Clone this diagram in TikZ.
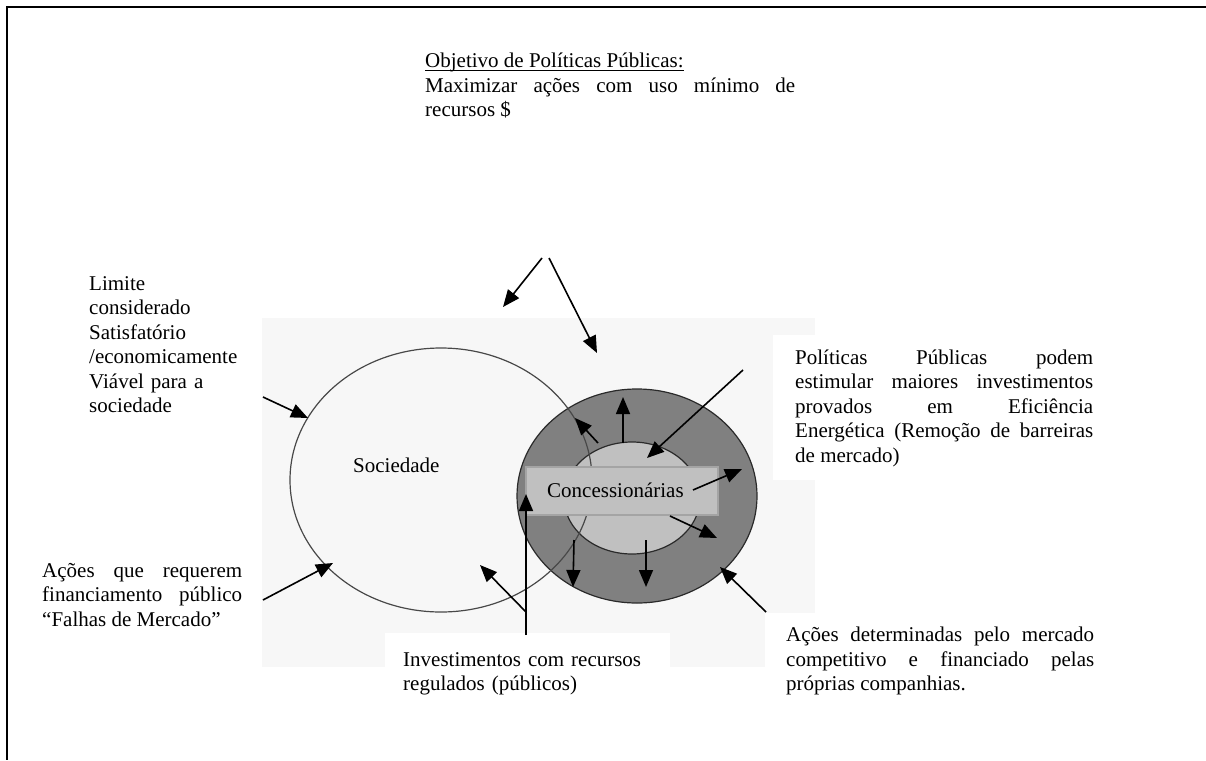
\documentclass[tikz,border=0pt]{standalone}
\usepackage{fontspec}
\setmainfont{Liberation Serif}
\usetikzlibrary{arrows.meta}
\hyphenpenalty=10000
\exhyphenpenalty=10000
\tolerance=10000
\begin{document}
\begin{tikzpicture}[x=1pt,y=-1pt,
  lbl/.style={font=\fontsize{21}{24.5}\selectfont,
              inner sep=0pt, anchor=base west},
  jblock/.style={lbl, text width=#1, align=justify},
  lblock/.style={lbl, text width=#1, align=left},
  arr/.style={line width=1.6pt, -{Triangle[length=17pt,width=14pt]}},
  frame/.style={line width=2.2pt, black},
  ringfill/.style={fill=ringgray, draw=outline, line width=1.2pt},
  innerfill/.style={fill=lightgray2, draw=outline, line width=1.2pt},
  socline/.style={draw=socgray, line width=1.2pt},
  boxstyle/.style={fill=lightgray2, draw=boxedge, line width=1.5pt, inner sep=0pt,
                   minimum width=192pt, minimum height=48pt}
]
\definecolor{ringgray}{HTML}{808080}
\definecolor{lightgray2}{HTML}{C0C0C0}
\definecolor{outline}{HTML}{2A2A2A}
\definecolor{socgray}{HTML}{484848}
\definecolor{boxedge}{HTML}{A4A4A4}
\definecolor{bgfaint}{HTML}{F7F7F7}

% canvas
\path[use as bounding box, fill=white] (0,0) rectangle (1206,760);
% faint background of the embedded figure
\fill[bgfaint] (262,318) rectangle (815,667);
\fill[white] (773,335) rectangle (815,480);
\fill[white] (765,613) rectangle (815,667);
\fill[white] (385,633) rectangle (670,667);

% frame (top and left edges visible)
\draw[frame] (1206,7) -- (7,7) -- (7,760);

% concentric ring (companies)
\path[ringfill] (637,496) ellipse [x radius=120pt, y radius=107pt];
\path[innerfill] (632,498) ellipse [x radius=68pt, y radius=56pt];
% society boundary
\path[socline] (441,480) ellipse [x radius=151pt, y radius=132pt];

% box
\node[boxstyle] (box) at (622,491) {};
\node[lbl] (conc) at (547,497.3) {Concessionárias};
\node[lbl] (soc) at (353,472) {Sociedade};

% texts
\node[lbl] (obj) at (425,67.7) {Objetivo de Políticas Públicas:};
\draw[line width=1.2pt] ([yshift=-2.4pt]obj.base west) -- ([yshift=-2.4pt]obj.base east);
\node[jblock=370pt] (maxi) at (425,92.2) {Maximizar ações com uso mínimo de\linebreak recursos \$};

\node[lblock=200pt] (lim) at (89,290) {Limite\\considerado\\Satisfatório\\/economicamente\\Viável para a\\sociedade};
\node[jblock=200pt] (acq) at (42,577) {Ações que requerem\linebreak financiamento público\linebreak “Falhas de Mercado”};
\node[jblock=298pt] (pol) at (795,364) {Políticas Públicas podem\linebreak estimular maiores investimentos\linebreak provados em Eficiência\linebreak Energética (Remoção de barreiras\linebreak de mercado)};
\node[lblock=280pt] (inv) at (403,666) {Investimentos com recursos\\regulados (públicos)};
\node[jblock=308pt] (acd) at (786,641.5) {Ações determinadas pelo mercado\linebreak competitivo e financiado pelas\linebreak próprias companhias.};

% arrow end points
\coordinate (a1s) at (542,258);  \coordinate (a1e) at (503,307);
\coordinate (a2s) at (549,258);  \coordinate (a2e) at (597,353);
\coordinate (a3s) at (263,397);  \coordinate (a3e) at (308,418);
\coordinate (a4s) at (263,600);  \coordinate (a4e) at (333,563);
\coordinate (a5s) at (743,370);  \coordinate (a5e) at (647,458);
\coordinate (a6s) at (623,443);  \coordinate (a6e) at (623,397);
\coordinate (a7s) at (598,443);  \coordinate (a7e) at (575,418);
\coordinate (a8s) at (693,490);  \coordinate (a8e) at (742,469);
\coordinate (a9s) at (670,516);  \coordinate (a9e) at (717,538);
\coordinate (a10s) at (646,540); \coordinate (a10e) at (646,587);
\coordinate (a11s) at (574,540); \coordinate (a11e) at (573,587);
\coordinate (a12s) at (526,635); \coordinate (a12e) at (526,494);
\coordinate (a13s) at (526,612); \coordinate (a13e) at (480,565);
\coordinate (a14s) at (766,612); \coordinate (a14e) at (720,567);

\foreach \i in {1,...,14} {
  \draw[arr] (a\i s) -- (a\i e);
}
\end{tikzpicture}
\end{document}
